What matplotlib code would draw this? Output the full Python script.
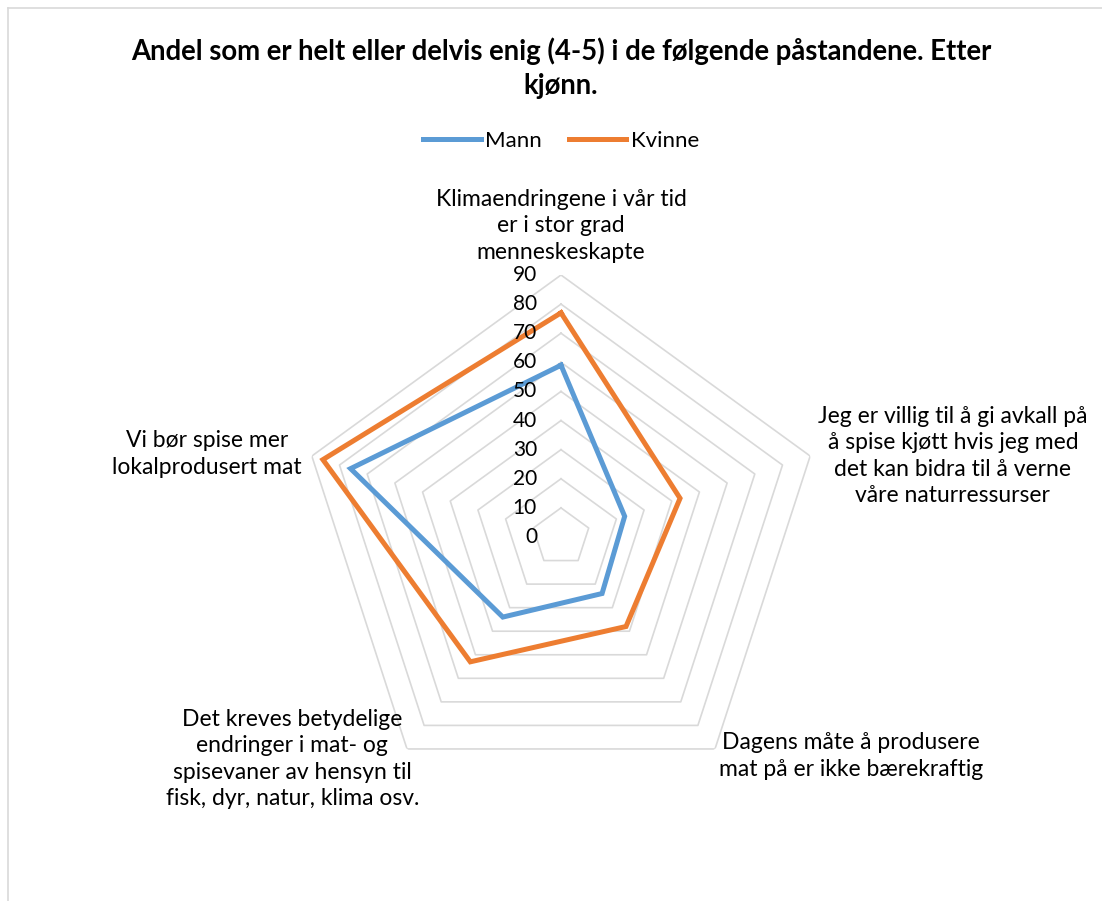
import numpy as np
import matplotlib
matplotlib.use("Agg")
import matplotlib.pyplot as plt
from matplotlib.lines import Line2D

plt.rcParams['font.family'] = ['Lato', 'DejaVu Sans']

title = "Andel som er helt eller delvis enig (4-5) i de følgende påstandene. Etter\nkjønn."
categories = [
    "Klimaendringene i vår tid\ner i stor grad\nmenneskeskapte",
    "Jeg er villig til å gi avkall på\nå spise kjøtt hvis jeg med\ndet kan bidra til å verne\nvåre naturressurser",
    "Dagens måte å produsere\nmat på er ikke bærekraftig",
    "Det kreves betydelige\nendringer i mat- og\nspisevaner av hensyn til\nfisk, dyr, natur, klima osv.",
    "Vi bør spise mer\nlokalprodusert mat",
]
mann = [59, 23, 24, 34, 76]
kvinne = [77, 43, 38, 53, 86]
series_names = ["Mann", "Kvinne"]
radial_ticks = [0, 10, 20, 30, 40, 50, 60, 70, 80, 90]

BLUE = "#5B9BD5"
ORANGE = "#ED7D31"
GRID = "#D9D9D9"
TEXT = "#000000"

W, H = 1102, 901
fig = plt.figure(figsize=(W / 100, H / 100), dpi=100)

# chart frame (top and left edges visible)
fig.add_artist(Line2D([8 / W, 1], [1 - 8 / H, 1 - 8 / H], color=GRID, lw=1.2, transform=fig.transFigure))
fig.add_artist(Line2D([8 / W, 8 / W], [0, 1 - 8 / H], color=GRID, lw=1.2, transform=fig.transFigure))

cx, cy, R = 561, 537, 262
ax = fig.add_axes([(cx - R) / W, 1 - (cy + R) / H, 2 * R / W, 2 * R / H], projection="polar")
ax.set_theta_offset(np.pi / 2)
ax.set_theta_direction(-1)
ax.set_ylim(0, radial_ticks[-1])
ax.grid(False)
ax.spines['polar'].set_visible(False)
ax.set_xticks([])
ax.set_yticks([])
ax.patch.set_alpha(0)

n = len(categories)
theta = np.linspace(0, 2 * np.pi, n, endpoint=False)
theta_closed = np.append(theta, theta[0])

# pentagon gridlines
for t in radial_ticks[1:]:
    ax.plot(theta_closed, [t] * (n + 1), color=GRID, lw=1.2, zorder=1)

# radial value labels
for t in radial_ticks:
    ax.annotate(str(t), xy=(0, t), xytext=(-24, 0), textcoords="offset pixels",
                ha="right", va="center", fontsize=15, color=TEXT, zorder=5,
                annotation_clip=False)

# series
for vals, col, name in [(mann, BLUE, series_names[0]), (kvinne, ORANGE, series_names[1])]:
    v = np.append(vals, vals[0])
    ax.plot(theta_closed, v, color=col, lw=3.6, label=name, zorder=3, solid_joinstyle="miter")

# category labels around the chart
label_cfg = [
    dict(off=(0, 12), ha="center", va="bottom"),
    dict(off=(8, 0), ha="left", va="center"),
    dict(off=(4, 17), ha="left", va="top"),
    dict(off=(12, -10), ha="right", va="center"),
    dict(off=(-10, 2), ha="right", va="center"),
]
for th, lab, cfg in zip(theta, categories, label_cfg):
    ax.annotate(lab, xy=(th, radial_ticks[-1]), xytext=cfg["off"], textcoords="offset pixels",
                ha=cfg["ha"], va=cfg["va"], multialignment="center", fontsize=16.5,
                color=TEXT, linespacing=1.33, annotation_clip=False)

fig.text(561 / W, 1 - 68 / H, title, ha="center", va="center", fontsize=19.8,
         fontweight="bold", color=TEXT, linespacing=1.36)

leg = fig.legend(loc="center", bbox_to_anchor=(561 / W, 1 - 141 / H), ncol=2, frameon=False,
                 fontsize=16, handlelength=2.6, handletextpad=0.2, columnspacing=1.2)

fig.savefig("out.png", dpi=100)
